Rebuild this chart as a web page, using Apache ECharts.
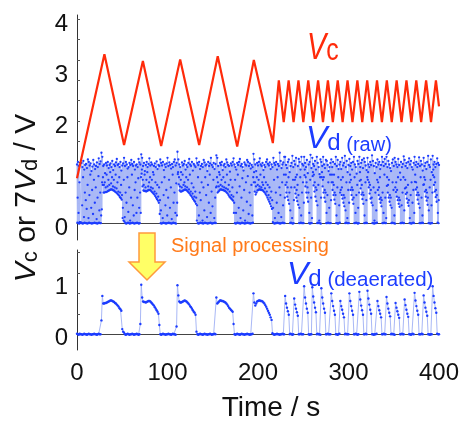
<!DOCTYPE html>
<html><head><meta charset="utf-8">
<script src="https://cdn.jsdelivr.net/npm/echarts@6/dist/echarts.min.js"></script>
<style>html,body{margin:0;padding:0;background:#fff}#c{width:464px;height:421px}</style>
</head><body><div id="c"></div>
<script>
// ---- Data ----
// Vc triangle-wave vertices (time s, value V)
const vcTime = [0, 30.3, 52, 72.8, 93, 114, 135, 155.5, 177, 195.4, 216.4,
  223, 228.4, 233.85, 239.3, 244.7, 250.1, 255.55, 261, 266.4, 271.8, 277.25, 282.7, 288.1, 293.5,
  298.95, 304.4, 309.8, 315.2, 320.65, 326.1, 331.5, 336.9, 342.35, 347.8, 353.2, 358.6, 364.05, 369.5,
  374.9, 380.3, 385.75, 391.2, 396.6, 400];
const vcValue = [0.88, 3.31, 1.53, 3.18, 1.51, 3.21, 1.53, 3.27, 1.50, 3.20, 1.57,
  2.80, 1.98, 2.80, 1.98, 2.80, 1.98, 2.80, 1.98, 2.80, 1.98, 2.80, 1.98, 2.80, 1.98,
  2.80, 1.98, 2.80, 1.98, 2.80, 1.98, 2.80, 1.98, 2.80, 1.98, 2.80, 1.98, 2.80, 1.98,
  2.80, 1.98, 2.80, 1.98, 2.80, 2.29];

// Deaerated 7Vd, one sample per second, t = 0..400 s
const vdDeaerated = [
 0.01,0,-0.01,0.01,0,0,-0.01,0,0.01,0,
 0,-0.01,0,0.01,0,0,-0.01,0,0,0.01,
 0,0,-0.01,0,0.01,0,0,0.27,0.75,0.6,
 0.6,0.61,0.61,0.62,0.63,0.64,0.65,0.66,0.66,0.65,
 0.64,0.63,0.61,0.6,0.58,0.56,0.54,0.51,0.49,0.46,
 0.1,0.05,0.03,0,-0.01,0,0.01,0,-0.01,0,
 0,0.01,0,-0.01,0,0,0.01,0,-0.01,0,
 0.2,0.97,0.72,0.64,0.63,0.63,0.62,0.63,0.64,0.65,
 0.65,0.64,0.62,0.6,0.58,0.56,0.53,0.5,0.47,0.44,
 0.4,0.18,0,-0.01,0,0.01,0,0,-0.01,0,
 0,0.01,0,0,-0.01,0,0.01,0,0,-0.01,
 0.15,0.96,0.76,0.64,0.62,0.62,0.63,0.64,0.65,0.66,
 0.65,0.64,0.62,0.6,0.58,0.55,0.53,0.5,0.47,0.44,
 0.42,0.38,0.05,0,-0.01,0,0.01,0,0,-0.01,
 0,0.01,0,0,-0.01,0,0,0.01,0,-0.01,
 0,0,0.01,0,0.72,0.6,0.62,0.64,0.66,0.66,
 0.65,0.65,0.64,0.63,0.62,0.6,0.58,0.55,0.52,0.5,
 0.48,0.46,0.44,0.2,0,-0.01,0,0.01,0,0,
 -0.01,0,0.01,0,0,-0.01,0,0,0.01,0,
 0,-0.01,0,0,0.01,0.8,0.62,0.56,0.6,0.64,
 0.65,0.66,0.66,0.65,0.65,0.64,0.62,0.6,0.57,0.54,
 0.5,0.46,0.42,0.38,0.33,0.28,0.02,0,-0.01,0,
 0,0.01,0,0,-0.01,0,0,0.01,0,0,
 0.75,0.6,0.52,0.45,0.38,0,0.01,0,-0.01,0,
 0.7,0.58,0.5,0.43,0.36,0,0,0.01,0,0,
 0,0.94,0.72,0.6,0.5,0.42,0,-0.01,0,0,
 0.92,0.74,0.62,0.52,0.43,0,0.01,0,0,-0.01,
 0.9,0.72,0.6,0.5,0.42,0,0,0.01,0,0,
 0,0.8,0.65,0.55,0.46,0.38,0,0,-0.01,0,
 0.01,0.65,0.55,0.48,0.4,0.33,0,0.01,0,0,
 0,0.8,0.65,0.55,0.46,0.38,0,0,0.01,0,
 -0.01,0,0.83,0.68,0.56,0.47,0.38,0,0,0.01,
 0,0.85,0.7,0.58,0.48,0.4,0,0,-0.01,0,
 0,0.01,0.65,0.55,0.47,0.4,0.33,0,0,0.01,
 0,0,0.73,0.6,0.5,0.42,0.35,0,0.01,0,
 0,-0.01,0.61,0.52,0.45,0.38,0.32,0,0,0.01,
 0,0,0.68,0.57,0.48,0.4,0.34,0,0,-0.01,
 0,0.01,0,0.81,0.66,0.55,0.46,0.38,0,0,
 0,0.01,0,0.76,0.62,0.52,0.44,0.36,0,0,
 -0.01,0,0,0.94,0.75,0.62,0.51,0.42,0.01,0,
 0];

// Raw 7Vd upper readings, one per second
const vdRawHigh = [
 1.15,1.2,1.12,0.02,0.01,1.18,1.1,1.22,1.05,1.14,
 1.16,1.08,1.25,1.2,1.13,1.17,1.02,1.11,1.24,1.15,
 1.06,1.12,1.19,1.1,1.27,1.16,1.21,1.38,1.3,1.12,
 1.15,0.98,1.18,1.13,1.2,1.08,1.14,1.17,1.1,1.22,
 1.04,1.15,1.12,1.19,1.26,1.14,1.16,1.1,1.2,1.03,
 1.13,1.17,1.28,1.12,1.2,1.15,1.07,1.1,1.18,1.14,
 1.24,1.16,1.12,1.2,1.05,1.13,1.15,1.1,1.26,1.19,
 1.15,1.35,1.28,1.12,1.18,1.02,1.14,1.2,1.1,1.16,
 1.27,1.13,1.19,1.15,1.0,1.12,1.17,1.1,1.21,1.06,
 1.14,1.12,1.25,1.18,1.13,1.2,1.04,1.15,1.1,1.17,
 1.28,1.12,1.19,1.14,1.07,1.16,1.1,1.2,1.25,1.13,
 1.18,1.4,1.25,1.15,1.1,1.0,1.19,1.13,1.16,1.22,
 1.05,1.14,1.1,1.18,1.26,1.15,1.12,1.2,1.03,1.16,
 1.13,1.1,1.27,1.18,1.14,1.2,1.06,1.12,1.16,1.1,
 1.24,1.19,1.13,1.15,1.02,1.2,1.12,1.17,1.28,1.14,
 1.1,1.18,1.06,1.16,1.33,1.28,1.12,1.0,1.18,1.14,
 1.2,1.04,1.13,1.16,1.1,1.25,1.19,1.14,1.12,1.01,
 1.17,1.13,1.2,1.27,1.15,1.1,1.05,1.18,1.14,1.2,
 1.26,1.12,1.16,1.1,1.03,1.19,1.15,1.13,1.24,1.2,
 1.12,1.17,1.07,1.14,1.1,1.36,1.25,1.15,1.02,1.18,
 1.13,1.2,1.27,1.15,1.12,1.18,1.04,1.14,1.1,1.2,
 1.25,1.16,1.13,1.19,1.06,1.15,1.1,1.28,1.18,1.14,
 1.2,1.05,1.16,1.12,1.38,1.22,1.08,1.15,1.19,1.3,
 1.3,1.14,1.08,1.2,1.25,1.0,1.12,1.18,1.32,1.1,
 1.22,1.15,1.28,0.95,1.12,1.26,1.2,1.05,1.3,1.16,
 1.13,1.3,1.18,1.1,1.24,0.98,1.15,1.2,1.34,1.08,
 1.28,1.16,1.12,1.22,1.05,1.3,1.18,1.1,0.96,1.25,
 1.2,1.12,1.3,1.15,1.08,1.24,1.22,1.14,1.02,1.1,
 1.18,1.25,1.1,1.2,0.95,1.16,1.3,1.12,1.24,1.06,
 1.15,1.2,1.06,1.28,1.13,1.18,1.32,1.1,1.22,1.0,
 1.14,1.26,1.12,1.18,1.05,1.2,1.3,1.15,1.1,0.97,
 1.22,1.16,1.3,1.1,1.18,1.24,1.08,1.27,1.2,1.13,
 1.04,1.28,1.15,1.1,1.2,1.14,1.33,1.22,1.12,0.98,
 1.18,1.1,1.25,1.15,1.2,1.06,1.14,1.3,1.2,1.12,
 1.26,1.16,1.3,1.1,1.22,1.15,1.08,1.02,1.18,1.25,
 1.12,1.28,1.2,1.15,1.1,1.26,1.14,0.99,1.2,1.1,
 1.16,1.31,1.24,1.12,1.18,1.08,1.2,1.27,1.15,1.22,
 1.1,1.05,1.18,1.3,1.14,1.2,1.1,1.16,1.29,1.12,
 1.22,1.15,1.03,1.28,1.12,1.18,1.06,1.2,1.32,1.14,
 1.1,1.25,1.0,1.32,1.15,1.2,1.1,1.16,1.27,1.18,
 1.14];

// Raw 7Vd intermediate readings, one per second
const vdRawMid = [
 0.5,0.2,0.8,0.01,0.01,0.35,0.9,0.12,0.6,0.45,
 0.28,0.75,0.1,0.55,0.95,0.3,0.65,0.18,0.85,0.4,
 0.7,0.08,0.5,0.92,0.25,0.6,0.15,0.8,0.9,0.75,
 0.8,0.7,0.95,0.72,0.85,0.75,1.0,0.78,0.9,0.72,
 0.85,0.7,0.95,0.68,0.8,0.62,0.9,0.6,0.75,0.55,
 0.3,0.85,0.12,0.6,0.4,0.9,0.22,0.7,0.05,0.5,
 0.95,0.35,0.15,0.65,0.8,0.2,0.5,0.88,0.3,0.6,
 0.9,1.05,0.85,0.75,0.95,0.7,0.85,1.0,0.72,0.8,
 0.9,0.7,0.85,0.68,0.95,0.62,0.8,0.58,0.75,0.52,
 0.7,0.45,0.25,0.8,0.1,0.55,0.9,0.35,0.65,0.15,
 0.5,0.85,0.3,0.7,0.08,0.95,0.4,0.6,0.2,0.78,
 0.4,1.0,0.9,0.72,0.85,0.7,0.95,0.75,0.8,0.72,
 0.9,0.7,0.85,0.66,0.95,0.62,0.78,0.58,0.7,0.52,
 0.62,0.5,0.35,0.9,0.15,0.6,0.45,0.8,0.05,0.7,
 0.25,0.9,0.55,0.12,0.75,0.4,0.95,0.2,0.62,0.33,
 0.85,0.1,0.5,0.7,0.9,0.8,0.72,0.95,0.75,0.85,
 0.72,0.9,0.7,0.8,0.68,0.95,0.66,0.75,0.62,0.85,
 0.55,0.7,0.52,0.4,0.85,0.2,0.6,0.95,0.3,0.72,
 0.1,0.5,0.88,0.25,0.65,0.05,0.8,0.42,0.92,0.18,
 0.6,0.35,0.75,0.15,0.9,1.0,0.8,0.72,0.9,0.75,
 0.85,0.72,0.95,0.7,0.8,0.75,0.9,0.68,0.8,0.62,
 0.75,0.55,0.7,0.5,0.62,0.45,0.3,0.85,0.1,0.6,
 0.4,0.9,0.2,0.7,0.55,0.12,0.8,0.35,0.95,0.5,
 0.95,0.8,0.7,0.9,0.6,0.25,0.7,0.1,0.85,0.45,
 0.85,0.9,0.65,0.75,0.55,0.3,0.9,0.15,0.6,0.8,
 0.4,1.05,0.9,0.8,0.7,0.6,0.2,0.85,0.5,0.1,
 1.0,0.95,0.8,0.7,0.65,0.35,0.75,0.05,0.9,0.5,
 1.0,0.85,0.9,0.65,0.6,0.2,0.55,0.8,0.3,0.95,
 0.45,0.95,0.8,0.75,0.6,0.55,0.15,0.7,0.9,0.35,
 0.6,0.85,0.7,0.9,0.55,0.5,0.25,0.8,0.1,0.65,
 0.4,0.95,0.85,0.7,0.65,0.5,0.9,0.2,0.55,0.75,
 0.3,0.6,1.0,0.85,0.75,0.6,0.55,0.15,0.8,0.45,
 0.9,1.0,0.8,0.75,0.65,0.5,0.35,0.7,0.05,0.6,
 0.25,0.85,0.8,0.7,0.9,0.5,0.45,0.6,0.2,0.95,
 0.5,0.1,0.9,0.75,0.85,0.55,0.5,0.3,0.8,0.65,
 0.15,0.7,0.8,0.65,0.9,0.5,0.45,0.85,0.35,0.6,
 0.9,0.25,0.85,0.7,0.6,0.75,0.45,0.1,0.55,0.8,
 0.4,0.65,0.2,0.95,0.8,0.7,0.6,0.55,0.3,0.9,
 0.5,0.15,0.75,0.9,0.85,0.65,0.6,0.5,0.25,0.7,
 0.85,0.35,0.6,1.05,0.9,0.8,0.65,0.55,0.2,0.45,
 0.5];

const xTicks = [0, 100, 200, 300, 400];
const yTopLabels = [0, 1, 2, 3, 4];
const yTopTicks = [0, 0.4, 0.8, 1.2, 1.6, 2.0, 2.4, 2.8, 3.2, 3.6, 4.0];
const yBotLabels = [0, 1];
const yBotTicks = [0, 0.4, 0.8, 1.2, 1.6];

// ---- Build series data ----
const vcData = vcTime.map((t, i) => [t, vcValue[i]]);
const deaData = vdDeaerated.map((v, i) => [i, v]);
const rawData = [];
vdRawHigh.forEach((v, i) => {
  rawData.push([i, v]);
  if (i < vdDeaerated.length - 1) {
    rawData.push([i + 0.4, vdDeaerated[i]]);
    rawData.push([i + 0.7, vdRawMid[i]]);
  }
});

const FONT = "'Liberation Sans', Arial, sans-serif";
const BLUE = '#1c3cff';
const LIGHT = '#a9b8f6';
const RED = '#ff2a0a';

const chart = echarts.init(document.getElementById('c'), null, {renderer: 'canvas'});
chart.setOption({
  animation: false,
  backgroundColor: '#fff',
  textStyle: {fontFamily: FONT},
  grid: [
    {left: 77, top: 15, width: 362, height: 225},
    {left: 77, top: 250, width: 362, height: 100}
  ],
  xAxis: [
    {gridIndex: 0, type: 'value', min: 0, max: 400, splitLine: {show: false},
     axisLine: {onZero: true, lineStyle: {color: '#444', width: 1}},
     axisTick: {show: false}, axisLabel: {show: false}},
    {gridIndex: 1, type: 'value', min: 0, max: 400, splitLine: {show: false},
     axisLine: {onZero: true, lineStyle: {color: '#444', width: 1}},
     axisTick: {show: false},
     axisLabel: {customValues: xTicks, fontSize: 24, color: '#111', margin: 11, fontFamily: FONT}}
  ],
  yAxis: [
    {gridIndex: 0, type: 'value', min: -0.33, max: 4.08, splitLine: {show: false},
     axisLine: {lineStyle: {color: '#333', width: 1}},
     axisTick: {inside: true, length: 3, customValues: yTopTicks, lineStyle: {color: '#555'}},
     axisLabel: {customValues: yTopLabels, fontSize: 24, color: '#111', margin: 9,
       verticalAlign: 'top', lineHeight: 10, fontFamily: FONT}},
    {gridIndex: 1, type: 'value', min: -0.31, max: 1.65, splitLine: {show: false},
     axisLine: {lineStyle: {color: '#333', width: 1}},
     axisTick: {inside: true, length: 3, customValues: yBotTicks, lineStyle: {color: '#555'}},
     axisLabel: {customValues: yBotLabels, fontSize: 24, color: '#111', margin: 9,
       verticalAlign: 'top', lineHeight: 8, fontFamily: FONT}}
  ],
  series: [
    {type: 'line', xAxisIndex: 0, yAxisIndex: 0, data: rawData, z: 2,
     showSymbol: true, showAllSymbol: true, symbol: 'circle', symbolSize: 2.3,
     itemStyle: {color: BLUE}, lineStyle: {color: LIGHT, width: 1}},
    {type: 'line', xAxisIndex: 0, yAxisIndex: 0, data: vcData, z: 3,
     showSymbol: false, lineStyle: {color: RED, width: 2.2}},
    {type: 'line', xAxisIndex: 1, yAxisIndex: 1, data: deaData, z: 2,
     showSymbol: true, showAllSymbol: true, symbol: 'circle', symbolSize: 2.4,
     itemStyle: {color: BLUE}, lineStyle: {color: LIGHT, width: 1}}
  ],
  graphic: [
    {type: 'polygon', z: 10,
     shape: {points: [[139,233],[155,233],[155,262],[165,262],[147,280],[129,262],[139,262]]},
     style: {fill: '#ffff66', stroke: '#ff9a3c', lineWidth: 1.5}},
    {type: 'text', x: 171, y: 246, z: 10,
     style: {text: 'Signal processing', font: '20px ' + FONT, fill: '#ff7a1a', verticalAlign: 'middle'}},
    {type: 'text', x: 307, y: 67, scaleX: 0.8, z: 10,
     style: {text: '{v|V}{s|c}', verticalAlign: 'bottom', fill: RED,
       rich: {v: {fontSize: 36, fontStyle: 'italic', fontFamily: FONT, fill: RED, verticalAlign: 'bottom'},
              s: {fontSize: 31, fontFamily: FONT, fill: RED, verticalAlign: 'bottom'}}}},
    {type: 'text', x: 306, y: 155, z: 10,
     style: {text: '{v|V}{s|d}{p| (raw)}', verticalAlign: 'bottom', fill: BLUE,
       rich: {v: {fontSize: 32, fontStyle: 'italic', fontFamily: FONT, fill: BLUE, verticalAlign: 'bottom'},
              s: {fontSize: 24, fontFamily: FONT, fill: BLUE, verticalAlign: 'bottom'},
              p: {fontSize: 20, fontFamily: FONT, fill: BLUE, verticalAlign: 'bottom'}}}},
    {type: 'text', x: 287, y: 291, z: 10,
     style: {text: '{v|V}{s|d}{p| (deaerated)}', verticalAlign: 'bottom', fill: BLUE,
       rich: {v: {fontSize: 32, fontStyle: 'italic', fontFamily: FONT, fill: BLUE, verticalAlign: 'bottom'},
              s: {fontSize: 24, fontFamily: FONT, fill: BLUE, verticalAlign: 'bottom'},
              p: {fontSize: 20.5, fontFamily: FONT, fill: BLUE, verticalAlign: 'bottom'}}}},
    {type: 'text', x: 27, y: 198, rotation: Math.PI / 2, z: 10,
     style: {text: '{v|V}{s|c}{n| or 7}{v|V}{s|d}{n| / V}', align: 'center', verticalAlign: 'middle', fill: '#111',
       rich: {v: {fontSize: 30, fontStyle: 'italic', fontFamily: FONT, fill: '#111', verticalAlign: 'bottom'},
              s: {fontSize: 22, fontFamily: FONT, fill: '#111', verticalAlign: 'bottom'},
              n: {fontSize: 30, fontFamily: FONT, fill: '#111', verticalAlign: 'bottom'}}}},
    {type: 'text', x: 271, y: 408, z: 10,
     style: {text: 'Time / s', font: '28px ' + FONT, fill: '#111', align: 'center', verticalAlign: 'middle'}}
  ]
});
</script>
</body></html>
